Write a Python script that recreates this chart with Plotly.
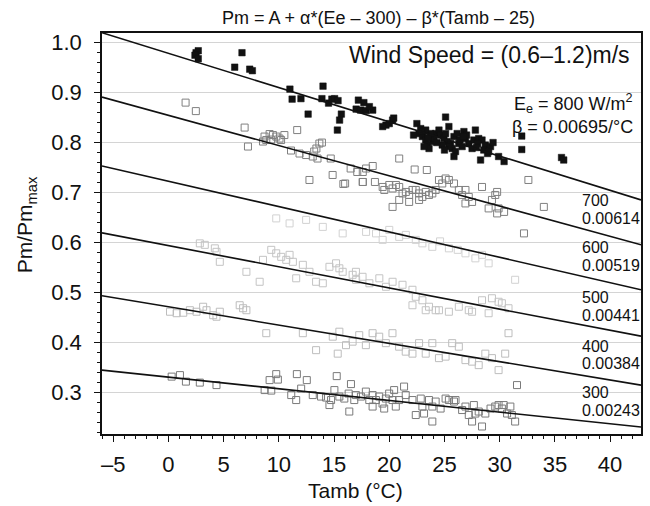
import plotly.graph_objects as go

# ---------------- data ----------------
# regression lines: Tamb at left/right frame and Pm/Pmmax at those ends
line_tamb = [-6.02, 42.8]
line_levels = ["800", "700", "600", "500", "400", "300"]
line_y_left = [1.020, 0.891, 0.753, 0.619, 0.493, 0.344]
line_y_right = [0.685, 0.595, 0.505, 0.412, 0.314, 0.230]
line_betas = ["0.00695", "0.00614", "0.00519", "0.00441", "0.00384", "0.00243"]

# Ee = 800 W/m2 (filled black squares)
t800 = [2.5, 2.7, 2.4, 2.7, 6.66, 6.0, 7.36, 7.6, 11.0, 11.2, 12.0, 12.65, 14.0, 13.9,
        14.5, 14.8, 15.05, 15.36, 15.66, 15.5, 15.3, 17.2, 17.7, 17.0, 17.4, 17.9, 18.5, 18.2,
        20.3, 20.0, 19.7, 19.4, 20.4, 22.5, 22.85, 22.7, 23.0, 23.3, 23.45, 23.6, 23.15, 23.9,
        24.2, 24.5, 24.66, 24.05, 23.75, 23.3, 25.1, 25.4, 24.95, 25.25, 25.55, 25.86, 26.15,
        25.7, 26.0, 25.86, 25.4, 26.3, 25.1, 26.76, 26.9, 26.6, 27.2, 27.5, 27.8, 27.66, 28.1,
        28.4, 28.7, 28.56, 28.9, 28.27, 29.17, 29.0, 29.9, 30.4, 32.0, 32.0, 35.6, 35.8,
        22.2, 24.8, 26.4, 27.0, 28.0, 29.4, 23.5, 25.0, 26.7, 27.9, 24.3, 22.9]
p800 = [0.980, 0.984, 0.975, 0.968, 0.980, 0.951, 0.947, 0.944, 0.907, 0.887, 0.888, 0.857,
        0.913, 0.888, 0.879, 0.887, 0.888, 0.884, 0.857, 0.845, 0.825, 0.885, 0.880, 0.867,
        0.865, 0.864, 0.865, 0.872, 0.845, 0.838, 0.835, 0.832, 0.849, 0.838, 0.828, 0.818,
        0.812, 0.805, 0.795, 0.788, 0.792, 0.802, 0.818, 0.825, 0.815, 0.808, 0.818, 0.825,
        0.851, 0.832, 0.808, 0.802, 0.798, 0.812, 0.818, 0.788, 0.782, 0.772, 0.792, 0.798,
        0.818, 0.822, 0.808, 0.792, 0.798, 0.788, 0.825, 0.805, 0.808, 0.805, 0.795, 0.785,
        0.778, 0.765, 0.792, 0.782, 0.772, 0.762, 0.813, 0.786, 0.770, 0.765,
        0.815, 0.795, 0.805, 0.815, 0.798, 0.800, 0.810, 0.785, 0.812, 0.790, 0.800, 0.822]

# Ee = 700 W/m2
t700 = [1.55, 2.48, 6.9, 7.2, 8.7, 9.16, 9.46, 9.77, 10.06, 8.86, 10.5, 8.56, 9.3, 10.2,
        11.66, 11.1, 11.87, 12.47, 13.4, 13.67, 13.9, 13.2, 13.5, 13.07, 12.77, 14.7, 14.87,
        15.84, 16.0, 16.5, 17.1, 17.6, 17.9, 20.9, 22.3, 23.4, 17.6, 18.5, 18.7, 17.6, 19.4,
        20.0, 20.3, 20.6, 20.9, 19.55, 21.2, 21.5, 21.8, 22.1, 22.4, 22.7, 23.0, 23.3, 23.6,
        23.9, 24.2, 24.5, 24.8, 25.1, 25.4, 25.86, 26.3, 26.6, 26.9, 27.2, 27.5, 26.9, 20.3,
        21.8, 22.7, 20.9, 28.4, 29.6, 29.77, 29.3, 29.0, 29.77, 29.9, 30.4, 32.6, 34.0, 32.2]
p700 = [0.880, 0.863, 0.830, 0.792, 0.812, 0.817, 0.815, 0.812, 0.808, 0.805, 0.815, 0.802,
        0.806, 0.805, 0.825, 0.784, 0.778, 0.775, 0.788, 0.798, 0.800, 0.782, 0.768, 0.772,
        0.725, 0.768, 0.735, 0.717, 0.718, 0.748, 0.741, 0.721, 0.748, 0.768, 0.746, 0.745,
        0.741, 0.753, 0.721, 0.721, 0.711, 0.715, 0.708, 0.715, 0.711, 0.705, 0.698, 0.701,
        0.695, 0.705, 0.705, 0.698, 0.691, 0.701, 0.695, 0.698, 0.705, 0.725, 0.718, 0.728,
        0.725, 0.718, 0.705, 0.695, 0.705, 0.691, 0.681, 0.678, 0.671, 0.681, 0.685, 0.685,
        0.711, 0.695, 0.701, 0.685, 0.668, 0.658, 0.668, 0.661, 0.725, 0.671, 0.618]

# Ee = 600 W/m2 (very faint)
t600 = [9.76, 10.97, 12.47, 13.98, 15.78, 17.9, 18.8, 20.0, 20.9, 22.4, 23.9, 25.4, 26.9,
        27.8, 29.0, 19.4, 21.5, 23.0, 24.6, 26.2, 28.4, 31.4]
p600 = [0.648, 0.638, 0.645, 0.631, 0.618, 0.621, 0.618, 0.625, 0.611, 0.605, 0.591, 0.588,
        0.578, 0.568, 0.558, 0.605, 0.615, 0.598, 0.602, 0.585, 0.575, 0.525]

# Ee = 500 W/m2
t500 = [2.84, 3.29, 4.2, 4.35, 4.65, 7.06, 8.26, 8.56, 9.31, 9.76, 10.21, 10.67, 10.97,
        11.27, 11.57, 12.17, 12.77, 13.37, 13.98, 14.58, 15.18, 15.48, 15.78, 16.68, 16.98,
        17.58, 17.0, 18.2, 19.1, 19.7, 20.3, 21.2, 22.1, 22.4, 23.0, 23.6, 24.2, 25.4, 26.3,
        27.2, 28.4, 29.3, 30.2, 30.8, 22.1, 23.3, 24.5, 27.5, 29.0, 29.9]
p500 = [0.598, 0.595, 0.588, 0.581, 0.561, 0.541, 0.521, 0.565, 0.585, 0.578, 0.571, 0.565,
        0.575, 0.561, 0.528, 0.555, 0.541, 0.521, 0.518, 0.551, 0.558, 0.548, 0.541, 0.535,
        0.541, 0.531, 0.525, 0.518, 0.528, 0.511, 0.521, 0.515, 0.505, 0.491, 0.484, 0.471,
        0.464, 0.461, 0.471, 0.464, 0.484, 0.488, 0.478, 0.468, 0.474, 0.464, 0.464, 0.461,
        0.458, 0.481]

# Ee = 400 W/m2
t400 = [0.14, 0.74, 1.34, 1.94, 2.54, 3.14, 3.45, 4.05, 4.35, 6.45, 6.76, 7.06, 4.65,
        8.86, 12.17, 13.37, 14.88, 15.33, 15.48, 16.08, 16.68, 17.28, 17.88, 18.49, 19.09,
        19.69, 20.29, 20.89, 21.49, 22.1, 22.7, 23.3, 23.9, 24.5, 25.1, 25.7, 26.3, 26.9,
        27.5, 28.1, 28.7, 29.3, 29.9, 30.5, 30.8]
p400 = [0.461, 0.458, 0.459, 0.464, 0.461, 0.471, 0.464, 0.454, 0.451, 0.474, 0.468, 0.464,
        0.461, 0.418, 0.418, 0.384, 0.411, 0.377, 0.421, 0.394, 0.401, 0.414, 0.394, 0.418,
        0.411, 0.398, 0.418, 0.391, 0.381, 0.377, 0.398, 0.377, 0.398, 0.368, 0.371, 0.398,
        0.391, 0.364, 0.361, 0.354, 0.377, 0.368, 0.344, 0.377, 0.418]

# Ee = 300 W/m2
t300 = [0.29, 1.04, 1.58, 2.84, 4.35, 8.71, 9.31, 9.16, 9.76, 9.91, 11.12, 11.57, 11.63,
        12.02, 12.53, 13.07, 13.82, 14.28, 14.73, 15.03, 14.58, 15.24, 15.48, 15.93, 16.32,
        16.38, 16.53, 16.83, 16.98, 17.43, 17.88, 18.19, 18.49, 18.79, 18.49, 19.09, 19.39,
        19.54, 19.69, 19.99, 20.29, 20.44, 20.59, 20.89, 21.34, 21.49, 22.1, 22.4, 22.85,
        23.15, 23.0, 23.6, 23.9, 23.9, 24.2, 24.65, 25.1, 25.4, 25.86, 26.0, 26.6, 26.9, 27.2,
        27.5, 27.66, 27.8, 28.1, 28.4, 28.7, 29.17, 29.6, 29.9, 30.2, 30.36, 30.67, 30.97,
        31.1, 31.4, 31.57]
p300 = [0.331, 0.334, 0.321, 0.319, 0.314, 0.304, 0.303, 0.324, 0.336, 0.325, 0.294, 0.284,
        0.336, 0.307, 0.324, 0.294, 0.291, 0.289, 0.284, 0.304, 0.274, 0.332, 0.291, 0.287,
        0.297, 0.261, 0.316, 0.284, 0.294, 0.291, 0.301, 0.284, 0.294, 0.284, 0.271, 0.291,
        0.277, 0.267, 0.287, 0.297, 0.284, 0.304, 0.271, 0.284, 0.311, 0.294, 0.284, 0.254,
        0.287, 0.257, 0.271, 0.284, 0.241, 0.271, 0.281, 0.267, 0.287, 0.284, 0.281, 0.284,
        0.264, 0.271, 0.254, 0.241, 0.274, 0.257, 0.261, 0.231, 0.257, 0.267, 0.271, 0.274,
        0.267, 0.274, 0.257, 0.271, 0.254, 0.241, 0.314]

x_ticks = [-5, 0, 5, 10, 15, 20, 25, 30, 35, 40]
y_ticks = [0.3, 0.4, 0.5, 0.6, 0.7, 0.8, 0.9, 1.0]

# ---------------- figure ----------------
FONT = "Liberation Sans, Arial, Helvetica, sans-serif"
fig = go.Figure()

groups = [
    (t300, p300, "#7a7a7a"),
    (t400, p400, "#bdbdbd"),
    (t500, p500, "#c4c4c4"),
    (t600, p600, "#d2d2d2"),
    (t700, p700, "#808080"),
]
for tx, py, col in groups:
    fig.add_trace(go.Scatter(x=tx, y=py, mode="markers",
                             marker=dict(symbol="square-open", size=7, color=col,
                                         line=dict(width=1, color=col)),
                             showlegend=False, hoverinfo="skip"))

fig.add_trace(go.Scatter(x=t800, y=p800, mode="markers",
                         marker=dict(symbol="square", size=6.5, color="#111111",
                                     line=dict(width=0.5, color="#111111")),
                         showlegend=False, hoverinfo="skip"))

for yl, yr in zip(line_y_left, line_y_right):
    fig.add_trace(go.Scatter(x=line_tamb, y=[yl, yr], mode="lines",
                             line=dict(color="#111111", width=1.6),
                             showlegend=False, hoverinfo="skip"))

L, R, T, B = 102, 7, 33, 72
W, H = 650, 506
pw, ph = W - L - R, H - T - B


def px_x(px):
    return (px - L) / pw


def px_y(py):
    return (H - B - py) / ph


ann = []
ann.append(dict(text="Pm = A + α*(Ee – 300) – β*(Tamb – 25)", x=px_x(380), y=px_y(18),
                xanchor="center", yanchor="middle", font=dict(size=18)))
ann.append(dict(text="Wind Speed = (0.6–1.2)m/s", x=px_x(634), y=px_y(55),
                xanchor="right", yanchor="middle", font=dict(size=23)))
ann.append(dict(text="E<sub>e</sub> = 800 W/m<sup>2</sup>", x=px_x(637), y=px_y(104),
                xanchor="right", yanchor="middle", font=dict(size=18)))
ann.append(dict(text="β = " + line_betas[0] + "/°C", x=px_x(637), y=px_y(127),
                xanchor="right", yanchor="middle", font=dict(size=18)))

lab_pos = [(200, 218), (247, 265), (297, 315), (346, 363), (392, 410)]
for (lev, beta), (y1, y2) in zip(zip(line_levels[1:], line_betas[1:]), lab_pos):
    ann.append(dict(text=lev, x=px_x(582), y=px_y(y1), xanchor="left", yanchor="middle",
                    font=dict(size=16)))
    ann.append(dict(text=beta, x=px_x(582), y=px_y(y2), xanchor="left", yanchor="middle",
                    font=dict(size=16)))

ann.append(dict(text="Tamb (°C)", x=px_x(356), y=px_y(490), xanchor="center", yanchor="middle",
                font=dict(size=21)))
ann.append(dict(text="Pm/Pm<sub>max</sub>", x=px_x(26), y=px_y(225), xanchor="center",
                yanchor="middle", textangle=-90, font=dict(size=21)))

for a in ann:
    a.update(xref="paper", yref="paper", showarrow=False)
    a["font"].update(family=FONT, color="#111111")

fig.update_layout(
    width=W, height=H,
    margin=dict(l=L, r=R, t=T, b=B, pad=0),
    paper_bgcolor="white", plot_bgcolor="white",
    font=dict(family=FONT, color="#111111"),
    annotations=ann,
    xaxis=dict(range=line_tamb, tickvals=x_ticks,
               ticktext=[("–" + str(-v)) if v < 0 else str(v) for v in x_ticks],
               showgrid=False, zeroline=False,
               showline=True, mirror=True, linecolor="#111111", linewidth=1.6,
               ticks="outside", ticklen=6, tickwidth=1.3, tickcolor="#111111",
               tickfont=dict(size=22, family=FONT, color="#111111"), ticklabelstandoff=4,
               minor=dict(dtick=1, ticks="outside", ticklen=3, tickwidth=1, tickcolor="#111111",
                          showgrid=False)),
    yaxis=dict(range=[0.216, 1.0195], tickvals=y_ticks, ticktext=["%.1f" % v for v in y_ticks],
               showgrid=True, gridcolor="#d4d4d4", gridwidth=1, zeroline=False,
               showline=True, mirror=True, linecolor="#111111", linewidth=1.6,
               ticks="outside", ticklen=6, tickwidth=1.3, tickcolor="#111111",
               tickfont=dict(size=22, family=FONT, color="#111111"), ticklabelstandoff=8,
               minor=dict(dtick=0.02, tick0=0.2, ticks="outside", ticklen=3, tickwidth=1,
                          tickcolor="#111111", showgrid=False)),
)

fig.write_html("out.html", config={"displayModeBar": False},
               post_script="document.body.style.margin='0';document.body.style.padding='0';")
